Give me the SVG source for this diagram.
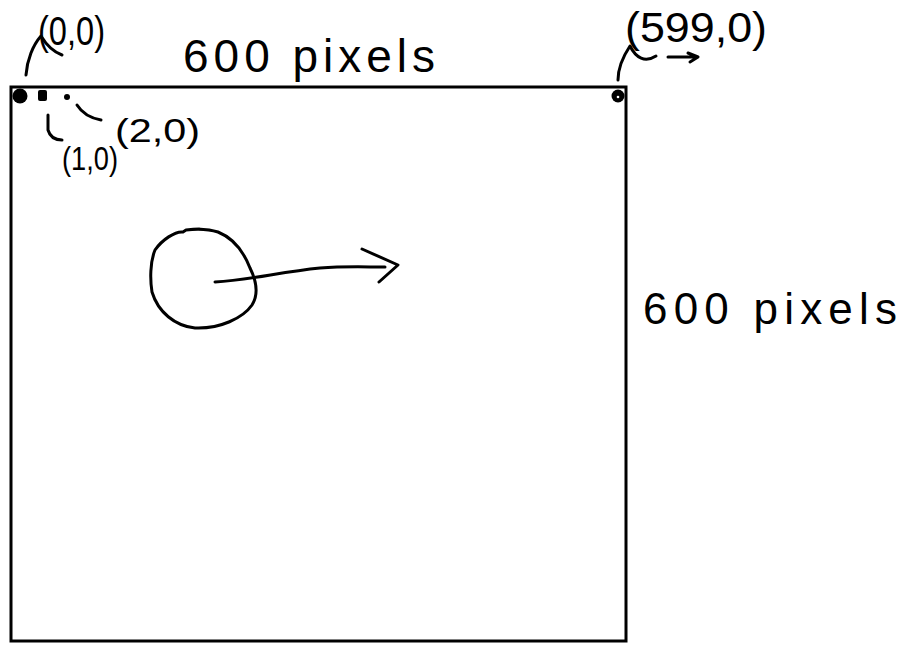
<svg xmlns="http://www.w3.org/2000/svg" width="905" height="645" viewBox="0 0 905 645">
<style>
.ink{fill:none;stroke:#000;stroke-width:3;stroke-linecap:round;stroke-linejoin:round}
.lbl{font-family:"Liberation Sans","DejaVu Sans",sans-serif;fill:#000}
</style>
<rect width="905" height="645" fill="#fff"/>
<g id="canvas">
<rect x="11" y="87" width="615" height="554" fill="none" stroke="#000" stroke-width="3"/>
</g>
<g id="pixels">
<circle cx="20" cy="96" r="7.5" fill="#000"/>
<rect x="38" y="90" width="9" height="11" rx="2" fill="#000"/>
<circle cx="67" cy="97" r="3" fill="#000"/>
<circle cx="618" cy="96" r="6.5" fill="#000"/>
<circle cx="618" cy="97" r="1.3" fill="#fff"/>
</g>
<g id="labels">
<text class="lbl" x="38" y="45" font-size="40" textLength="67" lengthAdjust="spacingAndGlyphs">(0,0)</text>
<text class="lbl" x="183" y="72" font-size="46" textLength="252" lengthAdjust="spacing">600 pixels</text>
<text class="lbl" x="115" y="142" font-size="34" textLength="85" lengthAdjust="spacingAndGlyphs">(2,0)</text>
<text class="lbl" x="62" y="170" font-size="34" textLength="56" lengthAdjust="spacingAndGlyphs">(1,0)</text>
<text class="lbl" x="625" y="42" font-size="42" textLength="142" lengthAdjust="spacingAndGlyphs">(599,0)</text>
<text class="lbl" x="643" y="324" font-size="44" textLength="254" lengthAdjust="spacing">600 pixels</text>
</g>
<g id="connectors">
<path class="ink" d="M26,75 C27,60 33,45 41,36 C47,46 54,52 62,55"/>
<path class="ink" d="M77,105 C82,113 90,118 101,120"/>
<path class="ink" d="M48,115 L48,130 C50,137 55,140 62,140"/>
<path class="ink" d="M618,80 C618,70 622,58 630,46 C636,58 645,63 656,56"/>
<path class="ink" d="M668,57 L696,57 M688,53 L698,57 L690,62"/>
</g>
<g id="ball">
<path class="ink" d="M183,232 C175,231 162,240 155,250 C150,262 150,280 152,292 C158,312 175,326 195,328 C220,329 243,318 252,305 C260,292 255,278 250,268 C243,250 233,238 218,232 C205,228 195,229 186,230 Z"/>
<path class="ink" d="M215,282 C250,280 280,272 320,268 C345,266 365,267 385,267"/>
<path class="ink" d="M362,249 L398,265 L379,282"/>
</g>
</svg>
